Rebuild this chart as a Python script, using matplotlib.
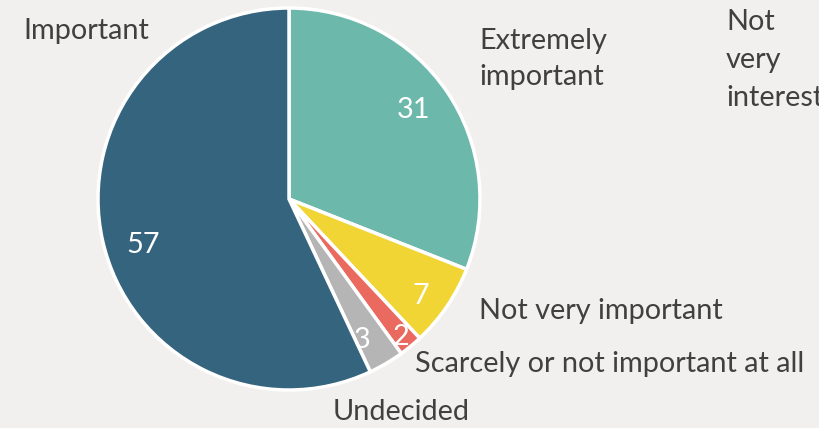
import matplotlib.pyplot as plt

# Survey answers (percent), clockwise from 12 o'clock
labels = ['Extremely\nimportant', 'Not very important', 'Scarcely or not important at all',
          'Undecided', 'Important']
values = [31, 7, 2, 3, 57]
colors = ['#6cb8ab', '#f0d535', '#ea6a5f', '#b5b5b5', '#35647e']

# label positions in pixels (x, y from top), ha
label_pos = [(479, 59, 'left'), (479, 311, 'left'), (415, 364, 'left'),
             (401, 412, 'center'), (86, 31, 'center')]
value_pos = [(414, 110), (421, 296), (401, 337), (362, 340), (143, 245)]

W, H = 820, 428
bg = '#f2f0ee'
txt = '#404040'

fig = plt.figure(figsize=(W / 100, H / 100), dpi=100, facecolor=bg)
ax = fig.add_axes([0, 0, 1, 1])

ax.pie(values, colors=colors, startangle=90, counterclock=False,
       center=(289, H - 199), radius=191, frame=True,
       wedgeprops=dict(edgecolor='white', linewidth=2.5))
ax.set_xlim(0, W)
ax.set_ylim(0, H)
ax.set_aspect('equal')
ax.axis('off')

font = 'Lato'
fs = 20.8
for lab, (x, y, ha) in zip(labels, label_pos):
    ax.text(x, H - y, lab, ha=ha, va='center', fontsize=fs, color=txt,
            family=font, linespacing=1.45)
for v, (x, y) in zip(values, value_pos):
    ax.text(x, H - y, str(v), ha='center', va='center', fontsize=fs,
            color='white', family=font)

# neighbouring chart label, cut off at the right edge as in the source
ax.text(726, H - 60, 'Not\nvery\ninteresting', ha='left', va='center',
        fontsize=fs, color=txt, family=font, linespacing=1.55)

fig.savefig('out.png', dpi=100, facecolor=bg)
